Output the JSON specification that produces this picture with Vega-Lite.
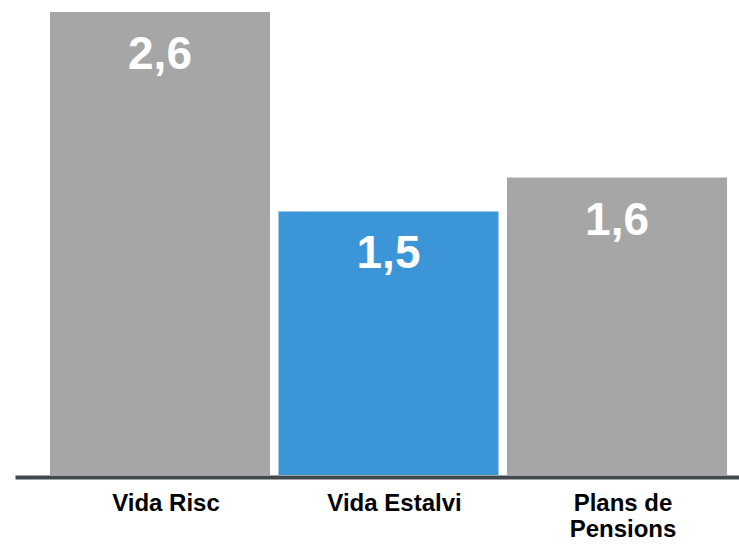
{
  "$schema": "https://vega.github.io/schema/vega-lite/v6.json",
  "width": 724,
  "height": 463,
  "autosize": {"type": "none"},
  "padding": {"left": 15, "right": 0, "top": 12, "bottom": 72},
  "background": "white",
  "config": {"view": {"stroke": null}},
  "data": {
    "values": [
      {"category": "Vida Risc", "value": 2.6, "label": "2,6", "highlight": "no"},
      {"category": "Vida Estalvi", "value": 1.48, "label": "1,5", "highlight": "yes"},
      {"category": "Plans de Pensions", "value": 1.67, "label": "1,6", "highlight": "no"}
    ]
  },
  "encoding": {
    "x": {
      "field": "category",
      "type": "nominal",
      "sort": null,
      "scale": {"paddingInner": 0.0372, "paddingOuter": 0.1028, "align": 0.745},
      "axis": {
        "title": null,
        "ticks": false,
        "domainWidth": 4,
        "domainColor": "#42494d",
        "offset": 2,
        "labelAngle": 0,
        "labelFont": "Liberation Sans",
        "labelFontWeight": "bold",
        "labelFontSize": 24,
        "labelColor": "#000000",
        "labelPadding": 14,
        "labelOffset": 6,
        "labelLineHeight": 26,
        "labelExpr": "datum.label == 'Plans de Pensions' ? ['Plans de', 'Pensions'] : datum.label"
      }
    },
    "y": {
      "field": "value",
      "type": "quantitative",
      "scale": {"domain": [0, 2.6], "nice": false},
      "axis": null
    }
  },
  "layer": [
    {
      "mark": {"type": "bar"},
      "encoding": {
        "color": {
          "field": "highlight",
          "type": "nominal",
          "scale": {"domain": ["no", "yes"], "range": ["#a6a6a6", "#3b95d6"]},
          "legend": null
        }
      }
    },
    {
      "mark": {
        "type": "text",
        "baseline": "alphabetic",
        "align": "center",
        "dy": 57,
        "font": "Liberation Sans",
        "fontWeight": "bold",
        "fontSize": 46,
        "color": "#ffffff"
      },
      "encoding": {"text": {"field": "label"}}
    }
  ]
}
